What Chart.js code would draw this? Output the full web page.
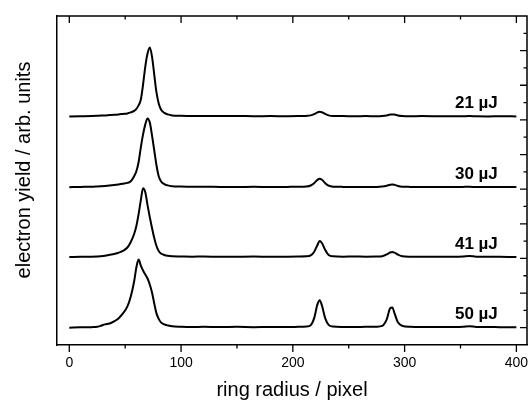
<!DOCTYPE html>
<html>
<head>
<meta charset="utf-8">
<script src="https://cdn.jsdelivr.net/npm/chart.js@4.4.0/dist/chart.umd.min.js"></script>
<style>
  html, body { margin: 0; padding: 0; background: #fff; }
  #wrap { width: 528px; height: 403px; }
</style>
</head>
<body>
<div id="wrap"><canvas id="canvas" width="528" height="403"></canvas></div>
<script>
// ring radius (pixel) sample points, shared by all traces
var radius = [0, 10, 20, 25, 28, 32, 36, 40, 44, 48, 52, 55, 58, 60, 62, 64, 66, 68, 70, 72,
  74, 76, 78, 80, 82, 85, 88, 92, 100, 110, 120, 135, 150, 165, 180, 195, 205, 212, 216, 219,
  222, 224, 226, 229, 232, 236, 245, 255, 265, 275, 280, 284, 287, 289, 291, 294, 298, 305, 315, 330,
  345, 352, 358, 364, 375, 385, 400];

// electron yield above each trace's own baseline (arb. units)
var yield21 = [0, 0.2, 0.4, 0.6, 0.8, 1, 1.3, 1.6, 2, 2.5, 3, 4, 5.5, 7.5, 11, 17, 32, 50, 63, 69,
  60, 42, 24, 13, 7, 3.5, 2, 1, 0.6, 0.4, 0.5, 0.3, 0.4, 0.2, 0.3, 0.2, 0.3, 0.5, 1, 2.2,
  4, 4.7, 4.2, 2.4, 1, 0.4, 0.3, 0.2, 0.3, 0.2, 0.4, 1, 1.8, 2, 1.8, 1, 0.4, 0.2, 0.3, 0.2,
  0.1, 0.2, 0.3, 0.1, 0, 0.1, 0];
var yield30 = [0, 0.3, 0.5, 0.8, 1, 1.3, 1.7, 2.2, 2.8, 3.5, 4.3, 6, 11, 16, 25, 40, 53, 63, 69, 65,
  52, 37, 22, 11, 6, 3, 1.8, 1, 0.6, 0.4, 0.5, 0.3, 0.2, 0.4, 0.2, 0.3, 0.4, 0.7, 1.7, 4,
  7.3, 8.4, 7.4, 4, 1.5, 0.5, 0.3, 0.2, 0.3, 0.3, 0.6, 1.4, 2.4, 2.7, 2.3, 1.2, 0.5, 0.3, 0.2, 0.3,
  0.2, 0.3, 0.4, 0.2, 0.1, 0.2, 0.1];
var yield41 = [0, 0.1, 0.3, 0.5, 0.7, 1.2, 2.2, 3, 4.3, 6, 9.5, 15, 23, 31, 43, 57, 69, 65, 52, 40,
  29, 19, 11, 6, 3.5, 2, 1.2, 0.7, 0.5, 0.3, 0.4, 0.2, 0.3, 0.4, 0.2, 0.3, 0.4, 0.6, 1.6, 5,
  12, 16, 14, 7, 2, 0.6, 0.3, 0.4, 0.3, 0.4, 0.8, 2.5, 4.5, 5, 4.3, 2.3, 0.8, 0.3, 0.2, 0.3,
  0.2, 0.4, 1, 0.3, 0.2, 0.1, 0];
var yield50 = [-0.3, 0, 0.2, 0.5, 1.5, 3, 3.8, 6, 9, 14, 21, 31, 46, 60, 68, 62, 57, 53, 49, 43,
  35, 24, 14, 8.5, 5, 3, 2, 1, 0.6, 0.4, 0.5, 0.3, 0.5, 0.2, 0.4, 0.3, 0.5, 0.8, 2.2, 9,
  23, 27.3, 22, 9, 2.5, 0.8, 0.4, 0.3, 0.5, 0.7, 1.5, 8, 19, 20, 14, 5, 1.5, 0.5, 0.3, 0.4,
  0.3, 0.5, 1.2, 0.4, 0.3, 0.2, 0.1];

var pulseLabels = ["21 µJ", "30 µJ", "41 µJ", "50 µJ"];
var offsets = [229.3, 158.3, 88.3, 17.7];
var xTicks = [0, 100, 200, 300, 400];

var traces = [yield21, yield30, yield41, yield50];
var FONT = "'Liberation Sans', Arial, sans-serif";

var datasets = traces.map(function (vals, i) {
  return {
    label: pulseLabels[i],
    data: vals.map(function (v, j) { return { x: radius[j], y: v + offsets[i] }; }),
    borderColor: "#000",
    borderWidth: 2,
    pointRadius: 0,
    fill: false,
    cubicInterpolationMode: "monotone"
  };
});

var framePlugin = {
  id: "frame",
  afterDraw: function (chart) {
    var ctx = chart.ctx;
    var a = chart.chartArea;
    var xs = chart.scales.x;
    var ys = chart.scales.y;
    ctx.save();
    ctx.strokeStyle = "#000";
    ctx.lineWidth = 1.5;
    ctx.beginPath();
    ctx.moveTo(a.left, a.top);
    ctx.lineTo(a.right, a.top);
    ctx.lineTo(a.right, a.bottom);
    ctx.stroke();

    ctx.lineWidth = 1.3;
    ctx.beginPath();
    for (var v = 0; v <= 400; v += 50) {
      var px = xs.getPixelForValue(v);
      var len = v % 100 === 0 ? 7 : 3.5;
      ctx.moveTo(px, a.top);
      ctx.lineTo(px, a.top + len);
      ctx.moveTo(px, a.bottom);
      ctx.lineTo(px, a.bottom + len);
    }
    for (var k = 1; k < 19; k++) {
      var py = ys.getPixelForValue(k * 330 / 19);
      var l = k % 2 ? 7 : 3.5;
      ctx.moveTo(a.right, py);
      ctx.lineTo(a.right - l, py);
    }
    ctx.stroke();

    ctx.fillStyle = "#000";
    ctx.font = "bold 17px " + FONT;
    ctx.textAlign = "right";
    ctx.textBaseline = "alphabetic";
    pulseLabels.forEach(function (lab, i) {
      ctx.fillText(lab, xs.getPixelForValue(383.4), ys.getPixelForValue(offsets[i] + 8));
    });

    ctx.font = "20px " + FONT;
    ctx.textAlign = "center";
    ctx.textBaseline = "middle";
    ctx.translate(24, 170);
    ctx.rotate(-Math.PI / 2);
    ctx.fillText("electron yield / arb. units", 0, 0);
    ctx.restore();
  }
};

const ctx = document.getElementById("canvas").getContext("2d");
const myChart = new Chart(ctx, {
  type: "line",
  data: { datasets: datasets },
  plugins: [framePlugin],
  options: {
    responsive: false,
    animation: false,
    layout: { padding: { top: 16, right: 1, left: 0, bottom: 0 } },
    plugins: { legend: { display: false }, tooltip: { enabled: false } },
    scales: {
      x: {
        type: "linear",
        min: -11,
        max: 409.5,
        afterBuildTicks: function (scale) {
          scale.ticks = xTicks.map(function (v) { return { value: v }; });
        },
        afterFit: function (scale) {
          scale.height = 58;
          scale.paddingLeft = 0;
          scale.paddingRight = 0;
        },
        grid: { display: false, drawTicks: false },
        border: { display: true, color: "#000", width: 1.5 },
        ticks: { color: "#000", padding: 10, maxRotation: 0, font: { family: FONT, size: 14 } },
        title: {
          display: true,
          text: "ring radius / pixel",
          color: "#000",
          padding: { top: 0, bottom: 1 },
          font: { family: FONT, size: 20 }
        }
      },
      y: {
        type: "linear",
        min: 0,
        max: 330,
        afterFit: function (scale) {
          scale.width = 57;
          scale.paddingTop = 0;
          scale.paddingBottom = 0;
        },
        grid: { display: false, drawTicks: false },
        border: { display: true, color: "#000", width: 1.5 },
        ticks: { display: false }
      }
    }
  }
});
</script>
</body>
</html>
